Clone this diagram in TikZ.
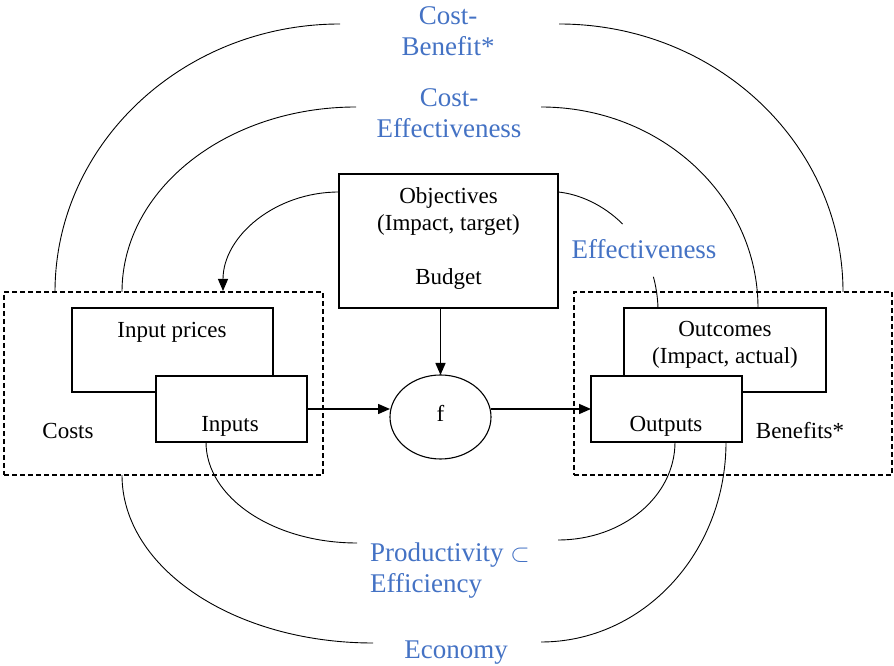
\documentclass[tikz,border=0pt]{standalone}
\usepackage{fontspec}
\setmainfont{Liberation Serif}
\usetikzlibrary{arrows.meta,shapes.geometric,calc}
\definecolor{measureblue}{RGB}{68,114,196}
\begin{document}
\begin{tikzpicture}[x=1pt,y=1pt,
  box/.style={draw, line width=1.1pt, fill=white, inner sep=0pt, outer sep=0pt},
  group/.style={draw, dash pattern=on 5pt off 3pt, line width=1.1pt, inner sep=0pt, outer sep=0pt},
  lbl/.style={font=\fontsize{23}{27}\selectfont, inner sep=0pt, align=center},
  measure/.style={font=\fontsize{27}{31}\selectfont, text=measureblue, inner sep=0pt, align=center},
  link/.style={line width=0.9pt},
  flow/.style={line width=1.5pt, -{Triangle[length=12pt,width=10pt]}},
  feedback/.style={line width=0.9pt, -{Triangle[length=12pt,width=10pt]}}]
\useasboundingbox (0,0) rectangle (894,666);

% cost side and benefit side groups
\node[group, minimum width=319pt, minimum height=183pt] (costgrp) at (163.5,282.5) {};
\node[group, minimum width=318pt, minimum height=183pt] (benefitgrp) at (733,282.5) {};

% boxes
\node[box, minimum width=201pt, minimum height=84pt] (prices) at (172.5,316) {};
\node[box, minimum width=151pt, minimum height=66pt] (inputs) at (231.5,257) {};
\node[box, minimum width=202pt, minimum height=84pt] (outcomes) at (725,316) {};
\node[box, minimum width=151pt, minimum height=66pt] (outputs) at (666.5,257) {};
\node[box, minimum width=219pt, minimum height=134pt] (objectives) at (448.5,425) {};
\node[box, ellipse, minimum width=101pt, minimum height=84pt] (f) at (440.5,249) {};

% box texts
\node[lbl] (ftext) at (440.5,252.5) {f};
\node[lbl] (objtext) at (448.5,427.5) {Objectives\\(Impact, target)\\[27pt]Budget};
\node[lbl] (pricestext) at (172,334) {Input prices};
\node[lbl] (inputstext) at (230,239.5) {Inputs};
\node[lbl] (coststext) at (68,235) {Costs};
\node[lbl] (outcomestext) at (725,321) {Outcomes\\(Impact, actual)};
\node[lbl] (outputstext) at (666,240) {Outputs};
\node[lbl] (benefitstext) at (800,235) {Benefits*};

% measure labels
\node[measure] (cb) at (448,635) {Cost-\\Benefit*};
\node[measure] (ce) at (449,552.5) {Cost-\\Effectiveness};
\node[measure] (eff) at (644,416.5) {Effectiveness};
\node[measure, align=left, anchor=west] (prod) at (370,95.5) {Productivity $\subset$\\Efficiency};
\node[measure] (econ) at (456,13) {Economy};

% flow through the production function
\draw[flow] (inputs.east) -- (inputs.east -| f.west);
\draw[flow] (f.east |- outputs.west) -- (outputs.west);
\draw[flow] (f.north |- objectives.south) -- (f.north);

% objectives feed back to input prices
\draw[feedback] (objectives.west |- 0,474) .. controls (275,474) and (223,429.6) .. (223,375);

% Cost-Benefit
\draw[link] (55,374) .. controls (55,522) and (183,642) .. (340,642);
\draw[link] (559,642) .. controls (716,642) and (843,522) .. (843,374);
% Cost-Effectiveness
\draw[link] (122,374) .. controls (122,477) and (227,559) .. (356,559);
\draw[link] (541,559) .. controls (661,559) and (758,469) .. (outcomes.north -| 758,0);
% Effectiveness
\draw[link] (objectives.east |- 0,474) .. controls (579,472) and (603.25,461.25) .. (622.6,442);
\draw[link] (653.4,389.2) .. controls (655.9,379.8) and (657.6,369.8) .. (outcomes.north -| 658,0);
% Productivity / Efficiency
\draw[link] (inputs.south -| 206,0) .. controls (206,168) and (274,123) .. (357,123);
\draw[link] (558,126) .. controls (622.6,126) and (675,169.5) .. (outputs.south -| 675,0);
% Economy
\draw[link] (costgrp.south -| 122,0) .. controls (122,98) and (234,23) .. (373,23);
\draw[link] (541,24) .. controls (643,24) and (726,113) .. (outputs.south -| 726,0);
\end{tikzpicture}
\end{document}
